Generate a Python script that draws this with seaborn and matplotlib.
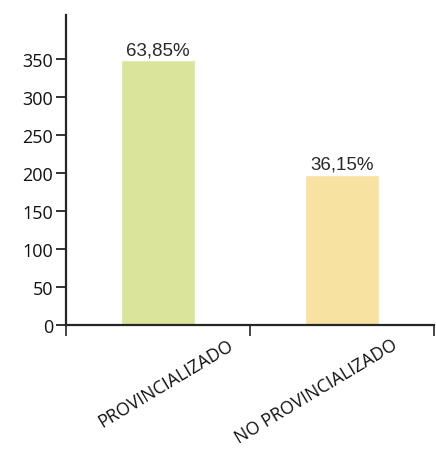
import numpy as np
import pandas as pd
import matplotlib
matplotlib.use("Agg")
import matplotlib.pyplot as plt
import seaborn as sns

categorias = ["PROVINCIALIZADO", "NO PROVINCIALIZADO"]
valores = [348, 197]
porcentajes = ["63,85%", "36,15%"]
colores = ["#dae49b", "#f7e2a1"]
yticks = [0, 50, 100, 150, 200, 250, 300, 350]

df = pd.DataFrame({"categoria": categorias, "valor": valores})

sns.set_style("ticks")
plt.rcParams["font.family"] = ["Open Sans", "DejaVu Sans"]

fig = plt.figure(figsize=(4.36, 4.52), dpi=100)
ax = fig.add_axes([0.151, 0.279, 0.844, 0.686])

sns.barplot(data=df, x="categoria", y="valor", hue="categoria",
            palette=colores, saturation=1, width=0.4, legend=False, ax=ax)

for i, txt in enumerate(porcentajes):
    ax.text(i, valores[i] + 3, txt, ha="center", va="bottom",
            fontsize=13.5, color="#2a2a2a", family=["Liberation Sans"])

ax.set_xlim(-0.5, 1.5)
ax.set_ylim(0, 408)
ax.set_yticks(yticks)
ax.tick_params(axis="y", labelsize=13, length=7, width=1.2, pad=2, colors="#111111")

# category boundaries as ticks, labels placed separately
ax.set_xticks([-0.5, 0.5, 1.5])
ax.set_xticklabels([])
ax.tick_params(axis="x", length=8, width=1.2, direction="out")
offsets = [0.38, 0.27]
for i, cat in enumerate(categorias):
    ax.text(i + offsets[i], -14, cat, rotation=31, ha="right", va="top",
            rotation_mode="anchor", fontsize=12.8, color="#111111")

ax.set_xlabel("")
ax.set_ylabel("")
ax.spines["top"].set_visible(False)
ax.spines["right"].set_visible(False)
ax.spines["left"].set_linewidth(1.6)
ax.spines["bottom"].set_linewidth(1.6)

fig.savefig("out.png", dpi=100)
